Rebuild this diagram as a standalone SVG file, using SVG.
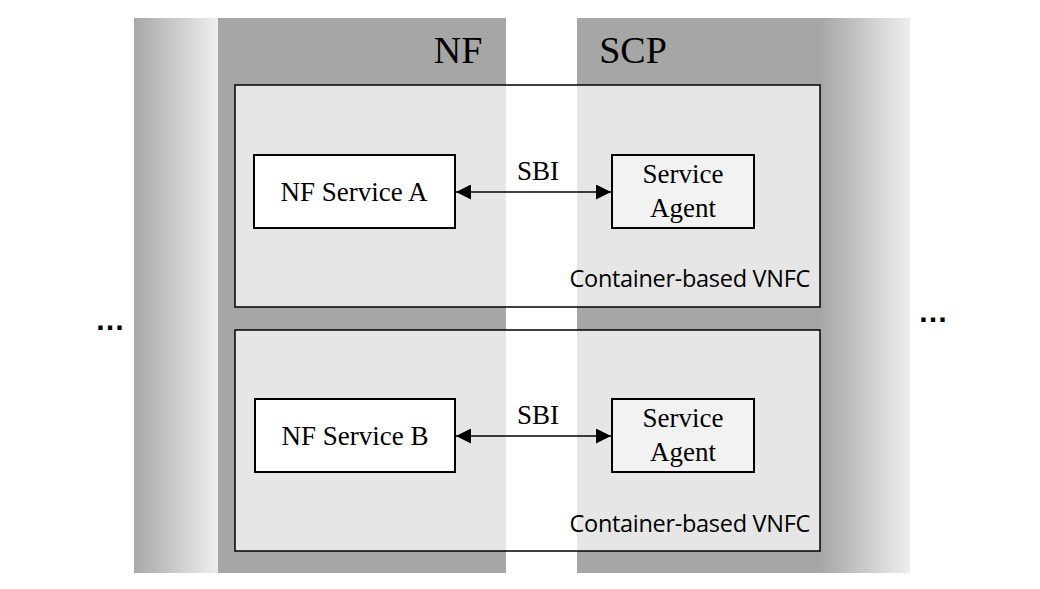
<svg xmlns="http://www.w3.org/2000/svg" width="1040" height="589" viewBox="0 0 1040 589">
<style>
.t{font-family:"Liberation Serif",serif;font-size:27px;fill:#000}
.h{font-family:"Liberation Serif",serif;font-size:38px;fill:#000}
.c{font-family:"Open Sans","DejaVu Sans",sans-serif;font-size:23.5px;fill:#000;letter-spacing:-0.3px}
.d{font-family:"Liberation Sans",sans-serif;font-size:30px;font-weight:bold;fill:#000}
.box{stroke:#000;stroke-width:2}
.cont{fill:#fff;fill-opacity:0.72;stroke:#000;stroke-width:1.5}
.ln{stroke:#000;stroke-width:1.5;fill:none}
</style>
<defs>
<linearGradient id="gl" x1="0" x2="1" y1="0" y2="0"><stop offset="0" stop-color="#a8a8a8"/><stop offset="1" stop-color="#eeeeee"/></linearGradient>
<linearGradient id="gr" x1="0" x2="1" y1="0" y2="0"><stop offset="0" stop-color="#a6a6a6"/><stop offset="1" stop-color="#eeeeee"/></linearGradient>
<marker id="ab" viewBox="0 0 14 14" refX="14" refY="7" markerWidth="15" markerHeight="15" markerUnits="userSpaceOnUse" orient="auto-start-reverse"><path d="M0,0L14,7L0,14z" fill="#000"/></marker>
</defs>
<g id="background">
<rect x="134" y="18" width="84" height="555" fill="url(#gl)"/>
<rect x="218" y="18" width="288" height="555" fill="#a6a6a6"/>
<rect x="577" y="18" width="243" height="555" fill="#a6a6a6"/>
<rect x="820" y="18" width="90" height="555" fill="url(#gr)"/>
<text class="h" x="458" y="63" text-anchor="middle">NF</text>
<text class="h" x="633" y="63" text-anchor="middle">SCP</text>
<text class="d" x="110" y="330" text-anchor="middle">…</text>
<text class="d" x="933" y="322" text-anchor="middle">…</text>
</g>
<g id="vnfc1">
<rect class="cont" x="235" y="85" width="585" height="222"/>
<text class="c" x="810" y="287" text-anchor="end">Container-based VNFC</text>
</g>
<g id="vnfc2">
<rect class="cont" x="235" y="330" width="585" height="221"/>
<text class="c" x="810" y="532" text-anchor="end">Container-based VNFC</text>
</g>
<g id="nfA"><rect class="box" x="254" y="155" width="201" height="73" fill="#fff"/><text class="t" x="354" y="201" text-anchor="middle">NF Service A</text></g>
<g id="agentA"><rect class="box" x="612" y="155" width="142" height="73" fill="#f2f2f2"/><text class="t" x="683" y="183" text-anchor="middle">Service</text><text class="t" x="683" y="217" text-anchor="middle">Agent</text></g>
<g id="nfB"><rect class="box" x="255" y="399" width="200" height="73" fill="#fff"/><text class="t" x="355" y="445" text-anchor="middle">NF Service B</text></g>
<g id="agentB"><rect class="box" x="612" y="399" width="142" height="73" fill="#f2f2f2"/><text class="t" x="683" y="427" text-anchor="middle">Service</text><text class="t" x="683" y="461" text-anchor="middle">Agent</text></g>
<g id="connectors">
<line class="ln" x1="456" y1="192" x2="611" y2="192" marker-start="url(#ab)" marker-end="url(#ab)"/>
<text class="t" x="538" y="180" text-anchor="middle">SBI</text>
<line class="ln" x1="456" y1="436" x2="611" y2="436" marker-start="url(#ab)" marker-end="url(#ab)"/>
<text class="t" x="538" y="424" text-anchor="middle">SBI</text>
</g>
</svg>
